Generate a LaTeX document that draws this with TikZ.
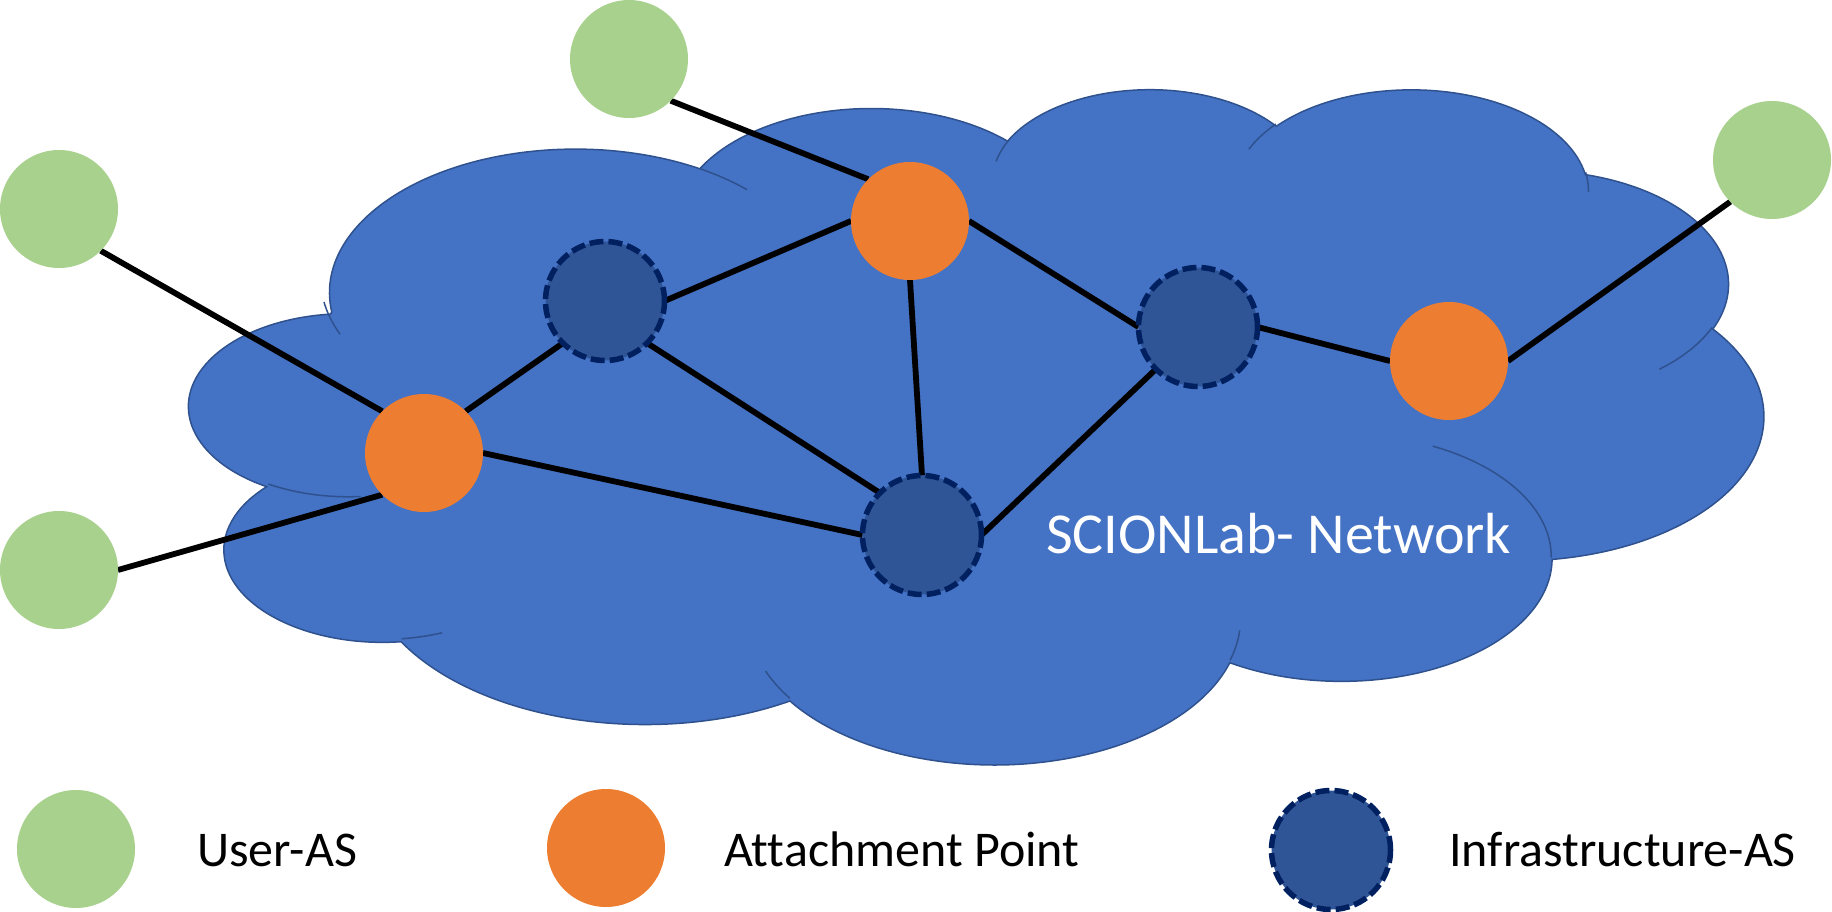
\documentclass[tikz,border=0pt]{standalone}
\usepackage{fontspec}
\setmainfont{Carlito}[Ligatures=NoCommon]
\pgfdeclarelayer{back}
\pgfdeclarelayer{mid}
\pgfsetlayers{back,mid,main}
\definecolor{cloudfill}{HTML}{4472C4}
\definecolor{cloudline}{HTML}{2F528F}
\definecolor{usergreen}{HTML}{A9D18E}
\definecolor{attorange}{HTML}{ED7D31}
\definecolor{infrafill}{HTML}{2F5597}
\definecolor{infraline}{HTML}{002060}
\newcommand\msarc[4]{arc[x radius=#1, y radius=#2, start angle={ooang(#3,#1,#2)}, end angle={ooang(#3+#4,#1,#2)}]}
\begin{document}
\begin{tikzpicture}[x=1pt,y=-1pt,
  declare function={oodiff(\ang,\rxx,\ryy)=atan2(\rxx*sin(\ang),\ryy*cos(\ang))-\ang;
                    ooang(\ang,\rxx,\ryy)=\ang+oodiff(\ang,\rxx,\ryy)-360*round(oodiff(\ang,\rxx,\ryy)/360);},
  useras/.style={circle,fill=usergreen,minimum size=118pt,inner sep=0pt,outer sep=0pt},
  attach/.style={circle,fill=attorange,minimum size=118pt,inner sep=0pt,outer sep=0pt},
  infra/.style={circle,fill=infrafill,draw=infraline,line width=5.5pt,dash pattern=on 14pt off 5pt,minimum size=119pt,inner sep=0pt,outer sep=0pt},
  link/.style={draw=black,line width=5.8pt},
  legendtext/.style={anchor=base west,font=\fontsize{50}{60}\selectfont,text=black,inner sep=0pt},
  cloudtext/.style={anchor=base west,font=\fontsize{58}{70}\selectfont,text=white,inner sep=0pt},
  cloudarc/.style={draw=cloudline,line width=1.5pt}
]
\useasboundingbox (0,0) rectangle (1832,912);

% cloud
\begin{pgfonlayer}{back}
\begin{scope}[shift={(189.7,87.5)},x={(0.364236pt,0pt)},y={(0pt,-0.156250pt)}]
\path[fill=cloudfill,cloudarc] (390,1437)
  \msarc{675.3}{919.0}{-190.487}{123.781}
  \msarc{533.3}{726.7}{-144.102}{89.945}
  \msarc{436.5}{594.5}{-145.808}{99.723}
  \msarc{485.7}{659.5}{-130.986}{117.242}
  \msarc{533.3}{727.3}{-78.709}{109.027}
  \msarc{677.5}{922.0}{-46.267}{130.269}
  \msarc{578.5}{786.7}{0.625}{114.033}
  \msarc{675.2}{921.5}{22.452}{115.173}
  \msarc{772.0}{1054.3}{66.243}{75.711}
  \msarc{436.0}{591.8}{-274.942}{146.736}
  \msarc{434.5}{594.5}{-246.829}{152.519}
  -- cycle;
\path[cloudarc]
  (469.3,2617.7) \msarc{434.5}{594.5}{86.742}{26.430}
  (692.8,3489.9) \msarc{436.0}{591.8}{73.610}{11.447}
  (1647.8,3909.0) \msarc{675.2}{921.5}{137.624}{14.081}
  (2882.7,3475.1) \msarc{675.2}{921.5}{6.453}{15.998}
  (3412.9,2295.4) \msarc{578.5}{786.7}{-70.292}{70.917}
  (4179.8,1535.4) \msarc{533.3}{727.3}{30.318}{27.752}
  (3832.4,542.6) \msarc{485.7}{659.5}{-13.744}{14.858}
  (2907.8,395.2) \msarc{485.7}{659.5}{-149.181}{18.188}
  (2214.1,472.0) \msarc{436.5}{594.5}{-163.494}{17.691}
  (1400.0,519.2) \msarc{675.3}{919.0}{-66.707}{12.319}
  (412.7,1578.9) \msarc{675.3}{919.0}{150.086}{17.101};
\end{scope}
\end{pgfonlayer}

% nodes
\node[useras] (u1) at (629,59) {};
\node[useras] (u2) at (59,209) {};
\node[useras] (u3) at (59,570) {};
\node[useras] (u4) at (1772,160) {};
\node[attach] (a1) at (910,221) {};
\node[attach] (a2) at (424,453) {};
\node[attach] (a3) at (1449,361) {};
\node[infra] (i1) at (605,301) {};
\node[infra] (i2) at (1198,327) {};
\node[infra] (i3) at (922,535) {};

\node[cloudtext] (lbl) at (1046,553) {SCIONLab- Network};

% connectors
\begin{pgfonlayer}{mid}
\draw[link] (u1.south east) -- (a1.north west);
\draw[link] (u2.south east) -- (a2.north west);
\draw[link] (u3.east) -- (a2.south west);
\draw[link] (u4.south west) -- (a3.east);
\draw[link] (a2.north east) -- (i1.south west);
\draw[link] (a2.east) -- (i3.west);
\draw[link] (i1.east) -- (a1.west);
\draw[link] (i1.south east) -- (i3.north west);
\draw[link] (a1.south) -- (i3.north);
\draw[link] (a1.east) -- (i2.west);
\draw[link] (i2.south west) -- (i3.east);
\draw[link] (i2.east) -- (a3.west);
\end{pgfonlayer}

% legend
\node[useras] (k1) at (76,849) {};
\node[attach] (k2) at (606,848) {};
\node[infra] (k3) at (1331,850) {};
\node[legendtext] (t1) at (197,866) {User-AS};
\node[legendtext] (t2) at (724,866) {Attachment Point};
\node[legendtext] (t3) at (1449,866) {Infrastructure-AS};
\end{tikzpicture}
\end{document}
